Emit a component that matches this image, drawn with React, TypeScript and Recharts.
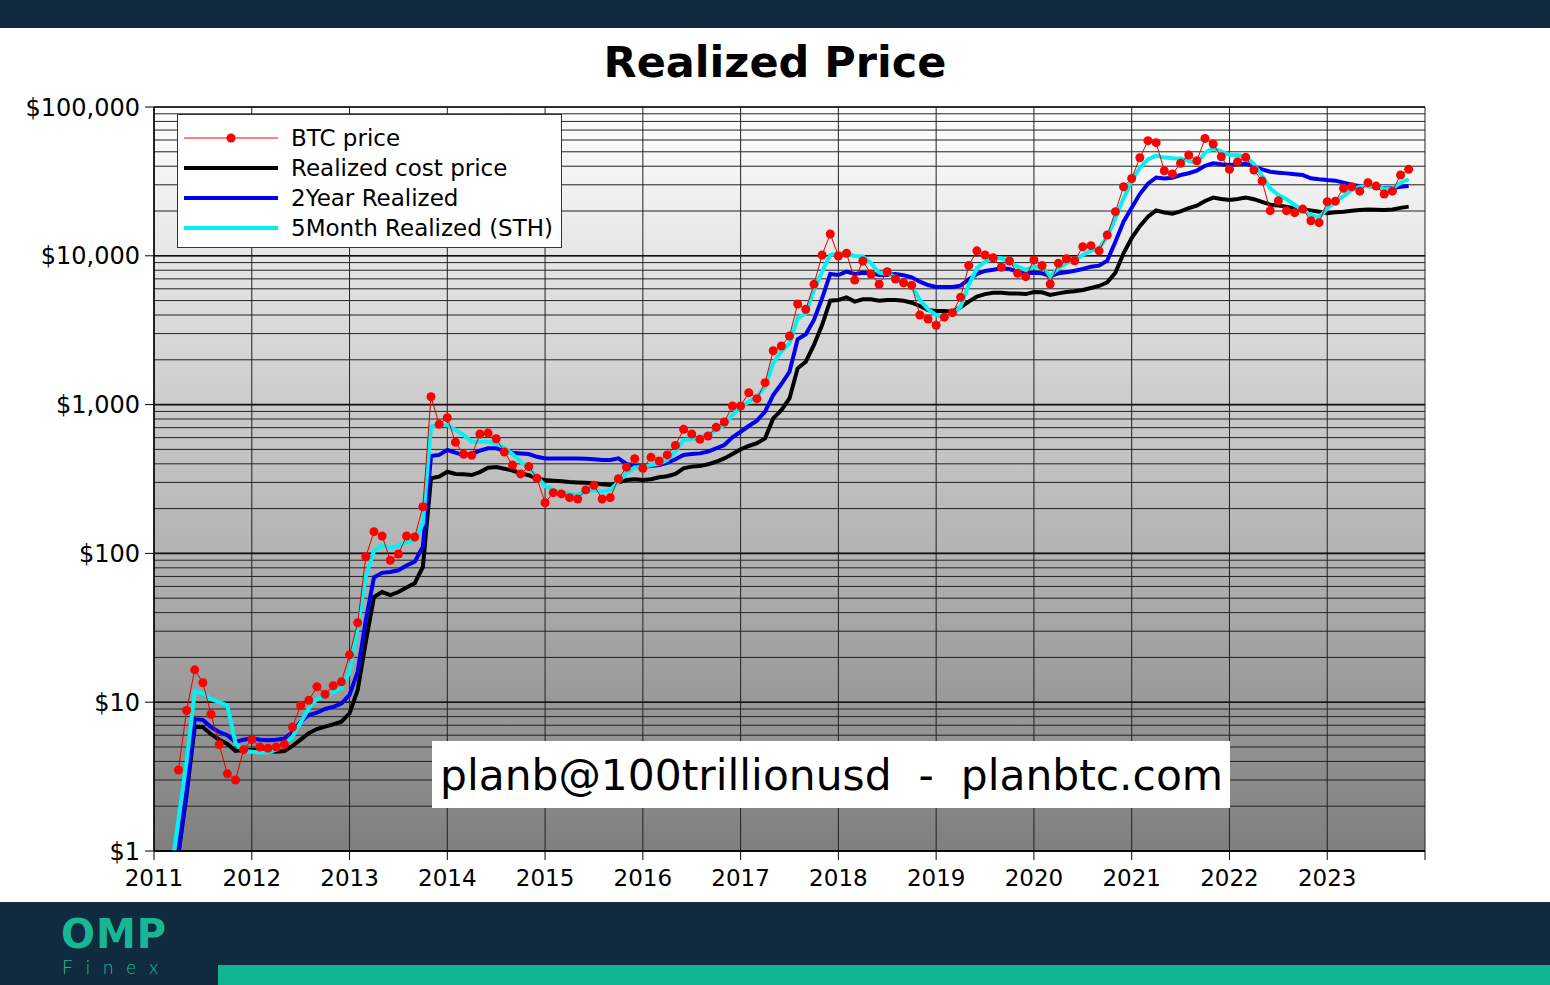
import React from 'react';
import { LineChart, Line, XAxis, YAxis, CartesianGrid, ReferenceLine } from 'recharts';

const FONT = '"DejaVu Sans", Verdana, sans-serif';

// monthly samples, March 2011 .. November 2023
const firstYear = 2011;
const firstMonth = 2; // March, 0-based

const yearTicks = [2011, 2012, 2013, 2014, 2015, 2016, 2017, 2018, 2019, 2020, 2021, 2022, 2023, 2024];
const decadeTicks = [1, 10, 100, 1000, 10000, 100000];
const minorSteps = [2, 3, 4, 5, 6, 7, 8, 9];

const btcPrice = [
  null, 3.5, 8.8, 16.5, 13.5, 8.3, 5.2, 3.3, 3.0, 4.8,
  5.6, 5.0, 4.9, 5.0, 5.2, 6.8, 9.5, 10.3, 12.7, 11.3, 12.9, 13.7,
  20.8, 34.2, 95, 140, 131, 90, 99, 131, 129, 206, 1130, 738,
  817, 558, 464, 456, 634, 644, 590, 480, 393, 342, 383, 320,
  219, 256, 251, 237, 232, 267, 287, 232, 237, 318, 379, 433,
  373, 442, 418, 459, 532, 682, 634, 584, 615, 703, 764, 979,
  979, 1203, 1096, 1404, 2302, 2475, 2892, 4745, 4369, 6430, 10120, 14020,
  9970, 10400, 6870, 9230, 7550, 6430, 7820, 6980, 6590, 6340, 4000, 3760,
  3410, 3870, 4150, 5260, 8590, 10800, 10120, 9700, 8370, 9230, 7630, 7240,
  9370, 8590, 6460, 8900, 9560, 9270, 11510, 11700, 10800, 13800, 19800, 29100,
  33100, 45600, 59400, 57600, 37300, 35500, 41900, 47600, 43500, 61500, 56400, 46300,
  38100, 42900, 45900, 37700, 31800, 20100, 23400, 20100, 19500, 20600, 17200, 16700,
  23100, 23300, 28400, 29100, 27200, 31000, 29400, 26000, 27200, 34900, 38100,
];

const realizedCost = [
  null, 0.95, 2.4, 6.85, 6.8, 6.1, 5.6, 5.24, 4.7, 4.77,
  4.77, 4.77, 4.7, 4.65, 4.7, 5.08, 5.6, 6.2, 6.6, 6.85, 7.1, 7.4,
  8.4, 12.1, 25.5, 51, 55, 52.5, 55, 59, 63, 81, 320, 328,
  354, 342, 340, 336, 352, 377, 380, 371, 360, 345, 335, 318,
  311, 308, 305, 302, 300, 298, 296, 292, 288, 300, 311, 315,
  311, 315, 325, 330, 342, 373, 383, 386, 397, 413, 435, 465,
  500, 527, 550, 593, 807, 918, 1100, 1754, 1942, 2516, 3428, 4990,
  5050, 5260, 4920, 5100, 5100, 4990, 5050, 5050, 4990, 4840, 4600, 4320,
  4255, 4255, 4210, 4510, 4920, 5310, 5530, 5650, 5650, 5590, 5590, 5530,
  5710, 5680, 5450, 5590, 5710, 5770, 5890, 6080, 6270, 6630, 7700, 10400,
  13150, 15830, 18310, 20200, 19550, 19200, 19900, 20900, 21700, 23350, 24600, 24100,
  23700, 24100, 24600, 24000, 23000, 22070, 21750, 21400, 20800, 20500, 20200, 19800,
  19300, 19600, 19800, 20100, 20300, 20500, 20400, 20300, 20500, 21000, 21400,
];

const twoYearRealized = [
  null, 0.98, 2.55, 7.7, 7.6, 6.8, 6.3, 6.0, 5.4, 5.6,
  5.75, 5.6, 5.55, 5.6, 5.7, 6.3, 7.4, 8.2, 8.5, 9.0, 9.3, 9.8,
  11.2, 16, 35.7, 69, 74, 75, 77, 83, 88, 111, 451, 459,
  495, 475, 459, 465, 490, 508, 508, 490, 475, 470, 465, 446,
  435, 435, 435, 435, 435, 433, 430, 424, 424, 435, 399, 388,
  383, 386, 393, 406, 429, 459, 465, 470, 483, 508, 535, 603,
  657, 718, 780, 896, 1160, 1375, 1663, 2750, 2967, 3704, 5180, 7550,
  7430, 7820, 7550, 7700, 7620, 7430, 7430, 7550, 7400, 7170, 6700, 6360,
  6170, 6170, 6170, 6300, 6950, 7550, 7910, 8050, 8240, 8150, 7820, 7630,
  7700, 7630, 7310, 7630, 7750, 7940, 8150, 8450, 8590, 9270, 12440, 16960,
  21000, 26000, 30500, 33600, 33100, 33500, 34900, 35900, 37400, 40300, 41900, 41200,
  40800, 41200, 41500, 40100, 38100, 36700, 36200, 35800, 35300, 34900, 33200, 32700,
  32300, 32000, 31000, 30000, 29400, 29400, 29100, 28400, 28400, 29100, 29400,
];

const fiveMonthRealized = [
  0.65, 1.63, 3.98, 11.8, 11.5, 10.5, 10.0, 9.5, 5.3, 4.7,
  4.65, 4.6, 4.6, 4.8, 5.3, 5.85, 7.3, 9.1, 10.5, 10.9, 11.7, 12.4,
  16, 32, 70, 104, 113, 109, 113, 118, 122, 159, 711, 729,
  729, 675, 625, 563, 563, 563, 550, 513, 465, 413, 373, 328,
  284, 267, 260, 251, 247, 260, 267, 260, 267, 303, 345, 379,
  379, 393, 400, 425, 483, 578, 585, 603, 625, 675, 729, 851,
  959, 1047, 1130, 1320, 1890, 2270, 2580, 3800, 4100, 5890, 7820, 10120,
  10400, 10400, 9970, 9900, 8910, 7700, 7550, 7240, 6590, 6270, 5050, 4380,
  4000, 3900, 4000, 4550, 6360, 8240, 9130, 9620, 9620, 9130, 8450, 8030,
  8450, 8450, 7310, 8240, 8910, 9370, 10120, 10810, 11220, 13440, 17870, 24330,
  32000, 39000, 44500, 47200, 45700, 45200, 45000, 43500, 42000, 49300, 52800, 50100,
  47600, 47600, 46300, 41400, 34400, 28400, 25600, 24000, 21950, 20300, 18800, 18100,
  20800, 23100, 25200, 27700, 29100, 29400, 29100, 28200, 28300, 31000, 32700,
];

const yTicks = decadeTicks.flatMap((d) => (d === 100000 ? [d] : [d, ...minorSteps.map((s) => s * d)]));

const data = btcPrice.map((v, i) => ({
  t: firstYear + (firstMonth + i) / 12,
  btc: v,
  realized: realizedCost[i],
  twoYear: twoYearRealized[i],
  fiveMonth: fiveMonthRealized[i],
}));

const legendItems = [
  { label: 'BTC price', color: '#ff0000', width: 1, dot: true },
  { label: 'Realized cost price', color: '#000000', width: 4, dot: false },
  { label: '2Year Realized', color: '#0000ee', width: 4, dot: false },
  { label: '5Month Realized (STH)', color: '#00f2f2', width: 4, dot: false },
];

// only decades get a label and an outer tick mark
const PriceTick = (props: any) => {
  const { x, y, payload } = props;
  if (!decadeTicks.includes(payload.value)) return <g />;
  return (
    <g>
      <line x1={x - 9} x2={x} y1={y} y2={y} stroke="#000" strokeWidth={1} />
      <text x={x - 14} y={y} dy="0.36em" textAnchor="end" fontSize={24} fontFamily={FONT} fill="#000">
        {'$' + payload.value.toLocaleString('en-US')}
      </text>
    </g>
  );
};

const App = () => {
  return (
    <div style={{ position: 'absolute', left: 0, top: 0, width: 1550, height: 985, background: '#fff', overflow: 'hidden', fontFamily: FONT }}>
      <div style={{ position: 'absolute', left: 0, top: 0, width: 1550, height: 28, background: '#102a40' }} />

      <div style={{ position: 'absolute', left: 0, top: 37, width: 1550, textAlign: 'center', fontSize: 43, fontWeight: 'bold', color: '#000' }}>
        Realized Price
      </div>

      <div style={{ position: 'absolute', left: 0, top: 0 }}>
        <LineChart width={1550} height={902} data={data} margin={{ top: 107, right: 125, bottom: 1, left: 0 }}>
          <defs>
            <linearGradient id="plotBg" x1="0" y1="0" x2="0" y2="1">
              <stop offset="0%" stopColor="#ffffff" />
              <stop offset="100%" stopColor="#7f7f7f" />
            </linearGradient>
          </defs>
          <CartesianGrid stroke="#222" strokeWidth={1} fill="url(#plotBg)" fillOpacity={1} />
          <XAxis
            type="number"
            dataKey="t"
            domain={[2011, 2024]}
            ticks={yearTicks}
            interval={0}
            height={50}
            tickSize={9}
            tickMargin={10}
            tickFormatter={(v: number) => (v < 2024 ? String(v) : '')}
            tick={{ fontSize: 23, fontFamily: FONT, fill: '#000' }}
            stroke="#000"
            axisLine={{ stroke: '#000', strokeWidth: 1.5 }}
            tickLine={{ stroke: '#000' }}
          />
          <YAxis
            type="number"
            scale="log"
            domain={[1, 100000]}
            allowDataOverflow
            ticks={yTicks}
            interval={0}
            width={154}
            tickSize={0}
            tickMargin={0}
            tickLine={false}
            tick={PriceTick}
            axisLine={{ stroke: '#000', strokeWidth: 1.5 }}
          />
          {decadeTicks.map((d) => (
            <ReferenceLine key={d} y={d} stroke="#111" strokeWidth={1.6} />
          ))}
          <Line type="linear" dataKey="realized" stroke="#000000" strokeWidth={4} dot={false} activeDot={false} isAnimationActive={false} />
          <Line type="linear" dataKey="twoYear" stroke="#0000ee" strokeWidth={4} dot={false} activeDot={false} isAnimationActive={false} />
          <Line type="linear" dataKey="fiveMonth" stroke="#00f2f2" strokeWidth={4} dot={false} activeDot={false} isAnimationActive={false} />
          <Line
            type="linear"
            dataKey="btc"
            stroke="#e00000"
            strokeWidth={1}
            dot={{ r: 4.5, fill: '#ff0000', stroke: 'none' }}
            activeDot={false}
            isAnimationActive={false}
          />
        </LineChart>
      </div>

      {/* legend */}
      <div style={{ position: 'absolute', left: 177, top: 114, width: 383, height: 124, background: '#fff', border: '1px solid #333', paddingTop: 8, boxSizing: 'content-box' }}>
        {legendItems.map((it) => (
          <div key={it.label} style={{ display: 'flex', alignItems: 'center', height: 30 }}>
            <svg width={113} height={30} style={{ display: 'block' }}>
              <line x1={6} x2={100} y1={15} y2={15} stroke={it.color} strokeWidth={it.width} />
              {it.dot && <circle cx={53} cy={15} r={4.5} fill="#ff0000" />}
            </svg>
            <span style={{ fontSize: 23, lineHeight: '30px', color: '#000', whiteSpace: 'nowrap' }}>{it.label}</span>
          </div>
        ))}
      </div>

      {/* watermark */}
      <div style={{ position: 'absolute', left: 432, top: 741, width: 798, height: 67, background: '#fff', boxSizing: 'border-box', paddingLeft: 8, paddingTop: 10, fontSize: 42.4, lineHeight: 'normal', color: '#000', whiteSpace: 'pre', overflow: 'hidden' }}>
        {'planb@100trillionusd  -  planbtc.com'}
      </div>

      {/* footer */}
      <div style={{ position: 'absolute', left: 0, top: 902, width: 1550, height: 83, background: '#102a40' }} />
      <div style={{ position: 'absolute', left: 218, top: 965, width: 1332, height: 20, background: '#10b591' }} />
      <div style={{ position: 'absolute', left: 61, top: 916, fontSize: 40, fontWeight: 'bold', color: '#17b795', fontFamily: '"DejaVu Sans", sans-serif', lineHeight: '36px', letterSpacing: 1 }}>
        OMP
      </div>
      <div style={{ position: 'absolute', left: 62, top: 957, fontSize: 19, color: '#17b795', fontFamily: 'Lato, sans-serif', fontWeight: 300, letterSpacing: 13, lineHeight: '20px' }}>
        Finex
      </div>
    </div>
  );
};

export default App;
